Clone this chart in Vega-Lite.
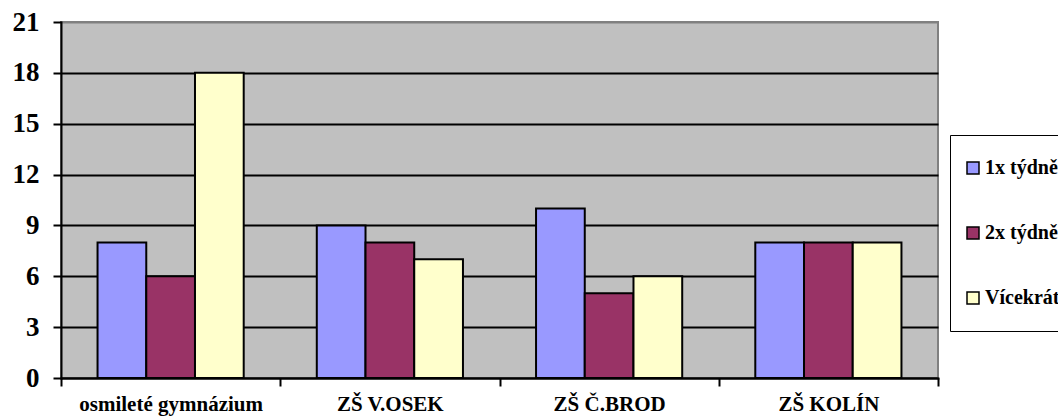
{
  "$schema": "https://vega.github.io/schema/vega-lite/v6.json",
  "autosize": {"type": "none"},
  "width": 877,
  "height": 356,
  "padding": {"left": 61, "top": 22, "right": 120, "bottom": 41},
  "background": "white",
  "data": {
    "values": [
      {"school": "osmileté gymnázium", "series": "1x týdně", "count": 8},
      {"school": "osmileté gymnázium", "series": "2x týdně", "count": 6},
      {"school": "osmileté gymnázium", "series": "Vícekrát týdně", "count": 18},
      {"school": "ZŠ V.OSEK", "series": "1x týdně", "count": 9},
      {"school": "ZŠ V.OSEK", "series": "2x týdně", "count": 8},
      {"school": "ZŠ V.OSEK", "series": "Vícekrát týdně", "count": 7},
      {"school": "ZŠ Č.BROD", "series": "1x týdně", "count": 10},
      {"school": "ZŠ Č.BROD", "series": "2x týdně", "count": 5},
      {"school": "ZŠ Č.BROD", "series": "Vícekrát týdně", "count": 6},
      {"school": "ZŠ KOLÍN", "series": "1x týdně", "count": 8},
      {"school": "ZŠ KOLÍN", "series": "2x týdně", "count": 8},
      {"school": "ZŠ KOLÍN", "series": "Vícekrát týdně", "count": 8}
    ]
  },
  "mark": {"type": "bar", "stroke": "black", "strokeWidth": 2, "opacity": 1},
  "encoding": {
    "x": {
      "field": "school",
      "type": "nominal",
      "sort": null,
      "scale": {"paddingInner": 0, "paddingOuter": 0},
      "axis": {
        "title": null,
        "labelAngle": 0,
        "labelLimit": 400,
        "tickBand": "extent",
        "tickSize": 8,
        "tickWidth": 2,
        "tickColor": "black",
        "domainColor": "black",
        "domainWidth": 2,
        "labelFontSize": 21,
        "labelPadding": 7
      }
    },
    "xOffset": {
      "field": "series",
      "type": "nominal",
      "sort": null,
      "scale": {"paddingInner": 0, "paddingOuter": 0.75}
    },
    "y": {
      "field": "count",
      "type": "quantitative",
      "scale": {"domain": [0, 21], "nice": false, "zero": true},
      "axis": {
        "title": null,
        "values": [0, 3, 6, 9, 12, 15, 18, 21],
        "grid": true,
        "gridColor": {"condition": {"test": "datum.value >= 21", "value": "#808080"}, "value": "black"},
        "gridWidth": 2,
        "tickSize": 8,
        "tickWidth": 2,
        "tickColor": "black",
        "domainColor": "black",
        "domainWidth": 2,
        "labelFontSize": 27,
        "labelPadding": 14
      }
    },
    "color": {
      "field": "series",
      "type": "nominal",
      "sort": null,
      "scale": {
        "domain": ["1x týdně", "2x týdně", "Vícekrát týdně"],
        "range": ["#9999FF", "#993366", "#FFFFCC"]
      },
      "legend": {
        "title": null,
        "orient": "none",
        "legendX": 889,
        "legendY": 113,
        "direction": "vertical",
        "strokeColor": "black",
        "fillColor": "white",
        "padding": 13,
        "clipHeight": 40,
        "rowPadding": 25,
        "symbolType": "square",
        "symbolSize": 144,
        "symbolStrokeColor": "black",
        "symbolStrokeWidth": 1.5,
        "symbolOpacity": 1,
        "labelFontSize": 20,
        "labelFont": "Liberation Serif, Times New Roman, DejaVu Serif, serif",
        "labelFontWeight": "bold",
        "labelColor": "black",
        "labelOffset": 2,
        "labelLimit": 400
      }
    }
  },
  "config": {
    "view": {"fill": "#C0C0C0", "stroke": "#808080", "strokeWidth": 2},
    "font": "Liberation Serif, Times New Roman, DejaVu Serif, serif",
    "axis": {
      "labelFont": "Liberation Serif, Times New Roman, DejaVu Serif, serif",
      "labelFontWeight": "bold",
      "labelColor": "black",
      "domainCap": "square"
    }
  }
}
